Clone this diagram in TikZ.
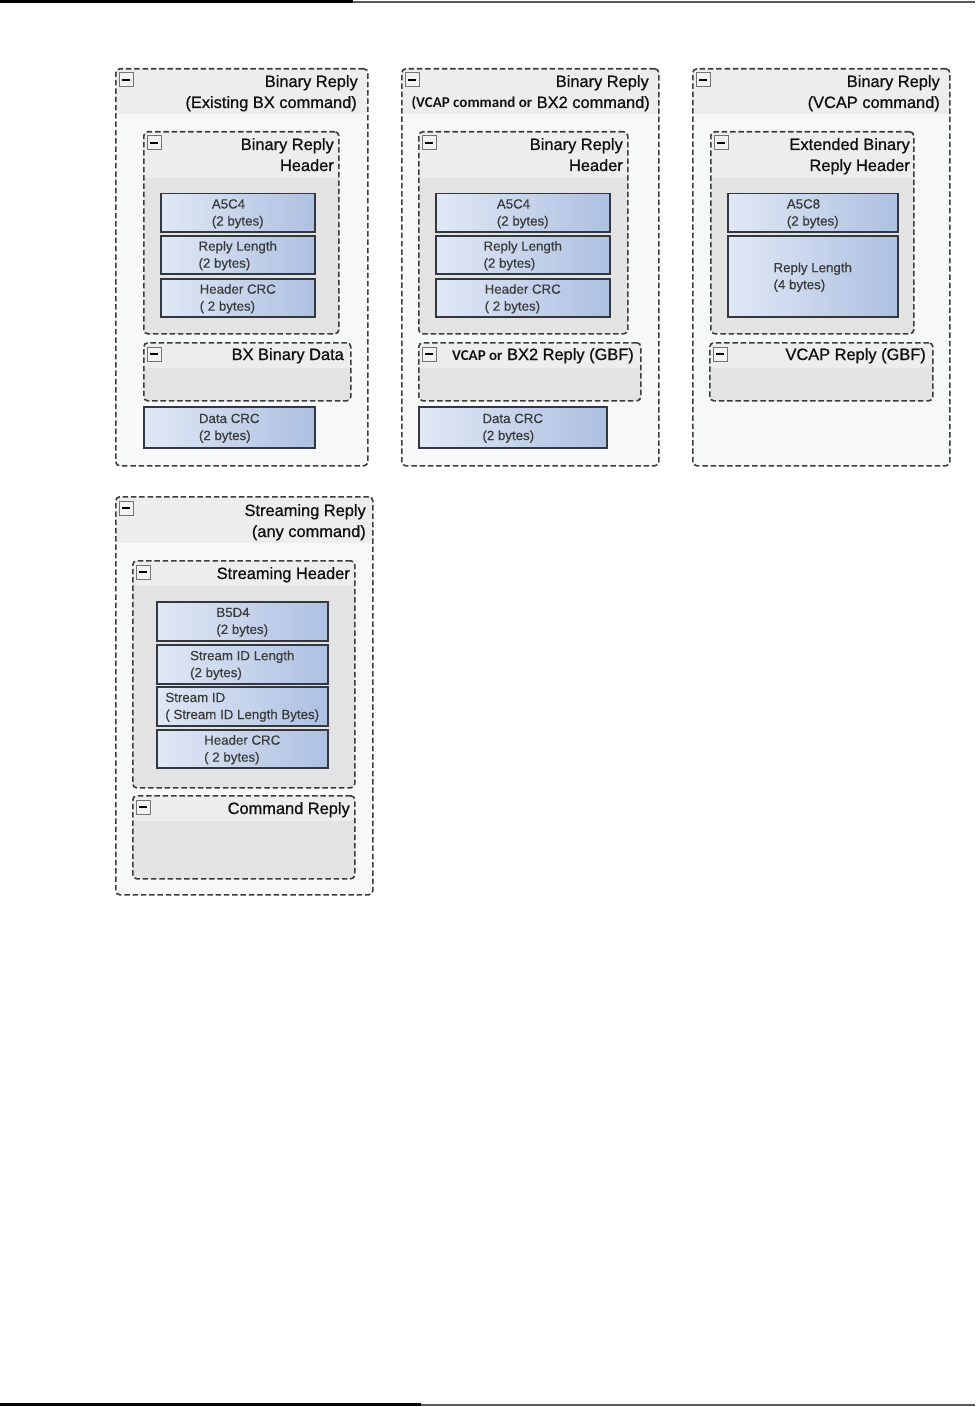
\documentclass[tikz,border=0pt]{standalone}
\usepackage{fontspec}
\setmainfont{Liberation Sans}
\newfontfamily\ttlfont{Liberation Sans}[FakeBold=0.8]
\newfontfamily\txtfont{Liberation Sans}[FakeBold=0.25]
\newfontfamily\calib{Carlito}
\definecolor{dashc}{HTML}{3C3C3C}
\definecolor{outerc}{HTML}{F7F8F8}
\definecolor{innerc}{HTML}{E3E3E3}
\definecolor{bandc}{HTML}{EDEDED}
\definecolor{blkl}{HTML}{E0E8F5}
\definecolor{blkr}{HTML}{ADC0E1}
\definecolor{blkb}{HTML}{33373F}
\definecolor{txtc}{HTML}{3A3A3A}
\definecolor{ttlc}{HTML}{101010}
\tikzset{
  ctr/.style={draw=dashc, line width=1.6pt, dash pattern=on 5.5pt off 2.8pt,
    rounded corners=4pt, anchor=north west, inner sep=0pt},
  blk/.style={draw=blkb, line width=1.5pt, left color=blkl, right color=blkr,
    anchor=north west, inner sep=0pt},
  blktxt/.style={text=txtc, align=left, inner sep=0pt,
    font=\txtfont\fontsize{13.3}{17}\selectfont},
  ttl/.style={text=ttlc, anchor=base east, inner sep=0pt,
    font=\ttlfont\fontsize{16.4}{20}\selectfont},
  minusbox/.style={draw=gray!90!black, fill=white!90!gray, line width=1pt,
    anchor=north west, inner sep=0pt, minimum width=14pt, minimum height=14pt},
}
% name, x1, y1, x2, y2, fill, band height
\newcommand\mkctr[7]{%
  \node[ctr, fill=#6, minimum width={#4pt-#2pt}, minimum height={#5pt-#3pt},
    path picture={\fill[bandc] (path picture bounding box.north west) rectangle
      ([yshift=-#7pt]path picture bounding box.north east);}] (#1) at (#2,#3) {};
  \node[minusbox] (#1m) at ([xshift=3.5pt,yshift=-4.5pt]#1.north west) {};
  \draw[line width=2.4pt] ([xshift=-3.6pt]#1m.center) -- ([xshift=3.6pt]#1m.center);
}
% name, x1, y1, x2, y2, text
\newcommand\mkblk[6]{%
  \node[blk, minimum width={#4pt-#2pt}, minimum height={#5pt-#3pt}] (#1) at (#2,#3) {};
  \node[blktxt] (#1t) at ([yshift=-1pt]#1.center) {#6};
}
\begin{document}
\begin{tikzpicture}[x=1pt,y=-1pt]
\useasboundingbox (0,0) rectangle (975,1407);
\fill[white] (0,0) rectangle (975,1407);
% page rules
\draw[line width=3pt, black] (0,1.8) -- (353,1.8);
\draw[line width=2pt, gray!70!black] (353,2.2) -- (975,2.2);
\draw[line width=3pt, black] (0,1404.5) -- (421,1404.5);
\draw[line width=2pt, gray!70!black] (421,1405) -- (975,1405);

% ---------- Panel 1 ----------
\mkctr{p1}{115}{68}{367}{465}{outerc}{45}
\node[ttl] (p1a) at (358,87) {Binary Reply};
\node[ttl] (p1b) at (357,108) {(Existing BX command)};
\mkctr{h1}{143}{131}{338}{333}{innerc}{46}
\node[ttl] (h1a) at (334,150) {Binary Reply};
\node[ttl] (h1b) at (334,171) {Header};
\mkblk{a1}{160}{193}{314}{231}{A5C4\\(2 bytes)}
\mkblk{b1}{160}{235}{314}{273}{Reply Length\\(2 bytes)}
\mkblk{c1}{160}{278}{314}{316}{Header CRC\\( 2 bytes)}
\mkctr{d1}{143}{342}{350}{400}{innerc}{25}
\node[ttl] (d1a) at (344,360) {BX Binary Data};
\mkblk{e1}{143}{406}{314}{447}{Data CRC\\(2 bytes)}

% ---------- Panel 2 ----------
\mkctr{p2}{401}{68}{658}{465}{outerc}{45}
\node[ttl] (p2a) at (649,87) {Binary Reply};
\node[ttl] (p2b) at (650,108) {{\calib\bfseries\fontsize{15}{20}\selectfont (VCAP command or} BX2 command)};
\mkctr{h2}{418}{131}{627}{333}{innerc}{46}
\node[ttl] (h2a) at (623,150) {Binary Reply};
\node[ttl] (h2b) at (623,171) {Header};
\mkblk{a2}{435}{193}{609}{231}{A5C4\\(2 bytes)}
\mkblk{b2}{435}{235}{609}{273}{Reply Length\\(2 bytes)}
\mkblk{c2}{435}{278}{609}{316}{Header CRC\\( 2 bytes)}
\mkctr{d2}{418}{342}{640}{400}{innerc}{25}
\node[ttl] (d2a) at (634,360) {{\calib\bfseries\fontsize{15}{20}\selectfont VCAP or} BX2 Reply (GBF)};
\mkblk{e2}{418}{406}{606}{447}{Data CRC\\(2 bytes)}

% ---------- Panel 3 ----------
\mkctr{p3}{692}{68}{949}{465}{outerc}{45}
\node[ttl] (p3a) at (940,87) {Binary Reply};
\node[ttl] (p3b) at (940,108) {(VCAP command)};
\mkctr{h3}{710}{131}{913}{333}{innerc}{46}
\node[ttl] (h3a) at (910,150) {Extended Binary};
\node[ttl] (h3b) at (910,171) {Reply Header};
\mkblk{a3}{727}{193}{897}{231}{A5C8\\(2 bytes)}
\mkblk{b3}{727}{235}{897}{316}{Reply Length\\(4 bytes)}
\mkctr{d3}{709}{342}{932}{400}{innerc}{25}
\node[ttl] (d3a) at (926,360) {VCAP Reply (GBF)};

% ---------- Panel 4 ----------
\mkctr{p4}{115}{496}{372}{894}{outerc}{46}
\node[ttl] (p4a) at (366,516) {Streaming Reply};
\node[ttl] (p4b) at (366,537) {(any command)};
\mkctr{h4}{132}{560}{354}{787}{innerc}{25}
\node[ttl] (h4a) at (350,579) {Streaming Header};
\mkblk{a4}{156}{601}{327}{640}{B5D4\\(2 bytes)}
\mkblk{b4}{156}{644}{327}{683}{Stream ID Length\\(2 bytes)}
\mkblk{c4}{156}{686}{327}{725}{Stream ID\\( Stream ID Length Bytes)}
\mkblk{f4}{156}{729}{327}{767}{Header CRC\\( 2 bytes)}
\mkctr{d4}{132}{795}{354}{878}{innerc}{25}
\node[ttl] (d4a) at (350,814) {Command Reply};
\end{tikzpicture}
\end{document}
